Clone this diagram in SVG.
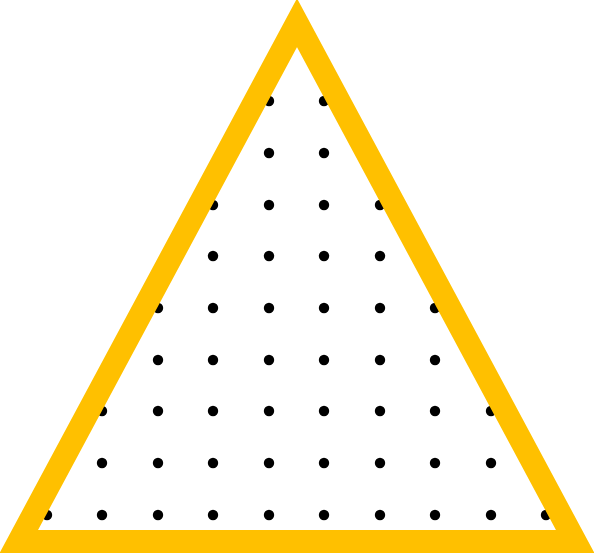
<svg xmlns="http://www.w3.org/2000/svg" width="594" height="553" viewBox="0 0 594 553">
<defs>
<style>
.dot{fill:#000}
.tri{fill:none;stroke:#FFC000;stroke-width:23;stroke-linejoin:miter;stroke-miterlimit:10}
</style>
<circle id="d" r="5.2" class="dot"/>
</defs>
<rect width="594" height="553" fill="#fff"/>
<g id="dots">
<use href="#d" x="269" y="101"/><use href="#d" x="324" y="101"/>
<use href="#d" x="269" y="153"/><use href="#d" x="324" y="153"/>
<use href="#d" x="213" y="205"/><use href="#d" x="269" y="205"/><use href="#d" x="324" y="205"/><use href="#d" x="380" y="205"/>
<use href="#d" x="213" y="256"/><use href="#d" x="269" y="256"/><use href="#d" x="324" y="256"/><use href="#d" x="380" y="256"/>
<use href="#d" x="158" y="308"/><use href="#d" x="213" y="308"/><use href="#d" x="269" y="308"/><use href="#d" x="324" y="308"/><use href="#d" x="380" y="308"/><use href="#d" x="435" y="308"/>
<use href="#d" x="158" y="360"/><use href="#d" x="213" y="360"/><use href="#d" x="269" y="360"/><use href="#d" x="324" y="360"/><use href="#d" x="380" y="360"/><use href="#d" x="435" y="360"/>
<use href="#d" x="102" y="411"/><use href="#d" x="158" y="411"/><use href="#d" x="213" y="411"/><use href="#d" x="269" y="411"/><use href="#d" x="324" y="411"/><use href="#d" x="380" y="411"/><use href="#d" x="435" y="411"/><use href="#d" x="491" y="411"/>
<use href="#d" x="102" y="463"/><use href="#d" x="158" y="463"/><use href="#d" x="213" y="463"/><use href="#d" x="269" y="463"/><use href="#d" x="324" y="463"/><use href="#d" x="380" y="463"/><use href="#d" x="435" y="463"/><use href="#d" x="491" y="463"/>
<use href="#d" x="47" y="515"/><use href="#d" x="102" y="515"/><use href="#d" x="158" y="515"/><use href="#d" x="213" y="515"/><use href="#d" x="269" y="515"/><use href="#d" x="324" y="515"/><use href="#d" x="380" y="515"/><use href="#d" x="435" y="515"/><use href="#d" x="491" y="515"/><use href="#d" x="546" y="515"/>
</g>
<g id="triangle">
<polygon class="tri" points="297,22.7 18.8,541.5 575.2,541.5"/>
</g>
</svg>
